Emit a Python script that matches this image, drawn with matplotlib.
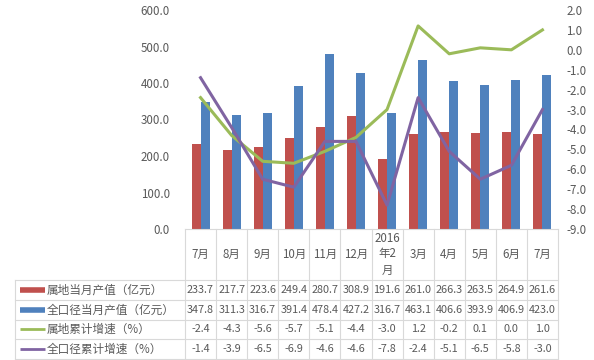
import matplotlib.pyplot as plt
import matplotlib.transforms as mtransforms
import numpy as np

plt.rcParams['font.family'] = ['Noto Sans CJK SC', 'DejaVu Sans']

categories = ['7月', '8月', '9月', '10月', '11月', '12月', '2016\n年2\n月', '3月', '4月', '5月', '6月', '7月']
local_value = [233.7, 217.7, 223.6, 249.4, 280.7, 308.9, 191.6, 261.0, 266.3, 263.5, 264.9, 261.6]
total_value = [347.8, 311.3, 316.7, 391.4, 478.4, 427.2, 316.7, 463.1, 406.6, 393.9, 406.9, 423.0]
local_growth = [-2.4, -4.3, -5.6, -5.7, -5.1, -4.4, -3.0, 1.2, -0.2, 0.1, 0.0, 1.0]
total_growth = [-1.4, -3.9, -6.5, -6.9, -4.6, -4.6, -7.8, -2.4, -5.1, -6.5, -5.8, -3.0]
series_names = ['属地当月产值（亿元）', '全口径当月产值（亿元）', '属地累计增速（%）', '全口径累计增速（%）']

red = '#C0504D'
blue = '#4F81BD'
green = '#9BBB59'
purple = '#8064A2'
grid_c = '#D9D9D9'
txt_c = '#595959'

W, H = 594, 360
fig = plt.figure(figsize=(W / 100, H / 100), dpi=100)
ax = fig.add_axes([185 / W, 1 - 229 / H, 373 / W, 219 / H])
ax2 = ax.twinx()

x = np.arange(len(categories))
bw = 0.29
ax.bar(x - bw / 2, local_value, bw, color=red)
ax.bar(x + bw / 2, total_value, bw, color=blue)
ax2.plot(x, local_growth, color=green, lw=2.2)
ax2.plot(x, total_growth, color=purple, lw=2.2)

ax.set_xlim(-0.5, len(categories) - 0.5)
ax.set_ylim(0, 600)
ax2.set_ylim(-9, 2)
ax.set_yticks(np.arange(0, 601, 100))
ax.set_yticklabels([f'{v:.1f}' for v in np.arange(0, 601, 100)])
ax2.set_yticks(np.arange(-9, 2.1, 1))
ax2.set_yticklabels([f'{v:.1f}' for v in np.arange(-9, 2.1, 1)])
ax.set_xticks([])
for a in (ax, ax2):
    for s in a.spines.values():
        s.set_visible(False)
    a.tick_params(length=0, labelsize=8.3, labelcolor=txt_c)
ax.tick_params(axis='y', pad=11)
ax2.tick_params(axis='y', pad=6)

# data table under the plot
blend = mtransforms.blended_transform_factory(ax.transData, fig.transFigure)
def fy(py):
    return 1 - py / H

row_lines = [280, 300, 319.5, 339, 359]
x_left = -0.5
x_right = len(categories) - 0.5
# top border over category cells
ax.plot([x_left, x_right], [fy(229), fy(229)], color=grid_c, lw=0.8, transform=blend, clip_on=False)
for py in row_lines:
    fig.add_artist(plt.Line2D([15 / W, 185 / W], [fy(py), fy(py)], color=grid_c, lw=0.8))
    ax.plot([x_left, x_right], [fy(py), fy(py)], color=grid_c, lw=0.8, transform=blend, clip_on=False)
for b in np.arange(len(categories) + 1) - 0.5:
    ax.plot([b, b], [fy(229), fy(359)], color=grid_c, lw=0.8, transform=blend, clip_on=False)
fig.add_artist(plt.Line2D([15 / W, 15 / W], [fy(280), fy(359)], color=grid_c, lw=0.8))

for i, c in enumerate(categories):
    ax.text(i, fy(254), c, transform=blend, ha='center', va='center', fontsize=8.3,
            color=txt_c, linespacing=1.3)

rows = [local_value, total_value, local_growth, total_growth]
colors = [red, blue, green, purple]
for r, (vals, col, name) in enumerate(zip(rows, colors, series_names)):
    yc = fy((row_lines[r] + row_lines[r + 1]) / 2)
    for i, v in enumerate(vals):
        ax.text(i, yc, f'{v:.1f}', transform=blend, ha='center', va='center', fontsize=7.8, color=txt_c)
    lw = 4 if r < 2 else 2
    fig.add_artist(plt.Line2D([20 / W, 45 / W], [yc, yc], color=col, lw=lw, solid_capstyle='butt'))
    fig.text(47 / W, yc, name, ha='left', va='center', fontsize=8.4, color=txt_c)

fig.savefig('out.png', dpi=100)
